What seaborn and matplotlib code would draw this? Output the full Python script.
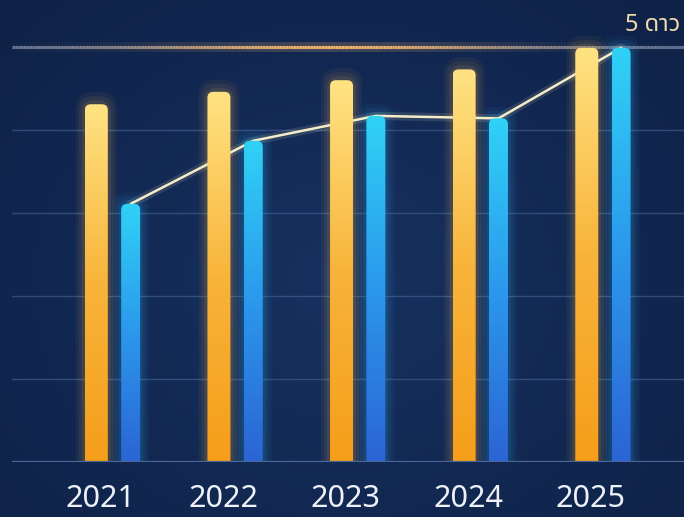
import numpy as np
import pandas as pd
import matplotlib
matplotlib.use("Agg")
import matplotlib.pyplot as plt
import seaborn as sns
from matplotlib.patches import FancyBboxPatch
from matplotlib.colors import LinearSegmentedColormap
from matplotlib.transforms import ScaledTranslation

years = ["2021", "2022", "2023", "2024", "2025"]
gold_values = [4.31, 4.46, 4.60, 4.73, 4.99]
blue_values = [3.11, 3.87, 4.17, 4.14, 4.99]
series = ["gold", "blue"]
top_label = "5 ดาว"

df = pd.DataFrame({
    "year": years * 2,
    "value": gold_values + blue_values,
    "series": [series[0]] * len(years) + [series[1]] * len(years),
})

BG = "#13284f"
sns.set_theme(style="dark")
plt.rcParams["font.family"] = ["Noto Sans", "Noto Sans Thai", "DejaVu Sans"]

fig = plt.figure(figsize=(6.84, 5.17), dpi=100, facecolor=BG)
# background vignette
bgax = fig.add_axes([0, 0, 1, 1])
yy, xx = np.mgrid[0:1:200j, 0:1:200j]
r = np.sqrt(((xx - 0.5) / 0.8) ** 2 + ((yy - 0.55) / 0.9) ** 2)
bgcm = LinearSegmentedColormap.from_list("bg", ["#173160", "#0e2146"])
bgax.imshow(r, cmap=bgcm, extent=[0, 1, 0, 1], aspect="auto", vmin=0, vmax=0.9)
bgax.axis("off")

ax = fig.add_axes([0.0175, 0.1064, 0.9825, 0.8936])
ax.patch.set_alpha(0)

sns.barplot(data=df, x="year", y="value", hue="series", hue_order=series,
            palette={"gold": "#f7b23a", "blue": "#2fa6ee"}, width=0.56, gap=0.3,
            legend=False, ax=ax, saturation=1, zorder=3)

XMIN, XMAX = -0.828, 4.653
YMAX = 5.566
ax.set_xlim(XMIN, XMAX)
ax.set_ylim(0, YMAX)

# grid lines
for v in [1, 2, 3, 4]:
    ax.axhline(v, color="#3a5685", lw=1.0, alpha=0.8, zorder=1)
ax.axhline(0, color="#4c6796", lw=1.6, zorder=6)

# glowing top line at 5
xs = np.linspace(XMIN, XMAX, 240)
edge = np.array(matplotlib.colors.to_rgb("#5a6f96"))
hot = np.array(matplotlib.colors.to_rgb("#f2b46a"))
for i in range(len(xs) - 1):
    t = (xs[i] - XMIN) / (XMAX - XMIN)
    intensity = np.exp(-((t - 0.47) / 0.30) ** 2)
    col = edge * (1 - intensity) + hot * intensity
    ax.plot(xs[i:i + 2], [5, 5], color=hot, lw=7, alpha=0.22 * intensity, zorder=2,
            solid_capstyle="butt")
    ax.plot(xs[i:i + 2], [5, 5], color=col, lw=2.2, zorder=2, solid_capstyle="butt")

gold_cm = LinearSegmentedColormap.from_list("g", ["#f59e1a", "#f8b43a", "#ffe383"])
blue_cm = LinearSegmentedColormap.from_list("b", ["#2c64d4", "#2b98ec", "#30d2f6"])
px_per_x = 672 / (XMAX - XMIN)
px_per_y = 462 / YMAX
widths = {"gold": 23 / px_per_x, "blue": 19 / px_per_x}
aspect = px_per_x / px_per_y

bars = list(ax.patches)
blue_tops = []
for idx, p in enumerate(bars):
    name = series[idx // len(years)]
    cx = p.get_x() + p.get_width() / 2
    h = p.get_height()
    w = widths[name]
    p.set_visible(False)
    glowc = "#ffb84a" if name == "gold" else "#2fb8ff"
    for k, a in [(3.0, 0.05), (2.0, 0.07), (1.0, 0.10)]:
        gw = w + k * 6 / px_per_x
        g = FancyBboxPatch((cx - gw / 2, -0.3), gw, h + 0.3 + k * 4 / px_per_y,
                           boxstyle="round,pad=0,rounding_size=%f" % (gw / 2.5),
                           mutation_aspect=aspect, fc=glowc, ec="none", alpha=a, zorder=3)
        ax.add_patch(g)
    rp = FancyBboxPatch((cx - w / 2, -0.3), w, h + 0.3,
                        boxstyle="round,pad=0,rounding_size=%f" % (6 / px_per_x),
                        mutation_aspect=aspect, fc="none", ec="none", zorder=4)
    ax.add_patch(rp)
    cm = gold_cm if name == "gold" else blue_cm
    grad = np.linspace(1, 0, 256).reshape(-1, 1)
    im = ax.imshow(grad, cmap=cm, extent=[cx - w / 2, cx + w / 2, 0, h], aspect="auto",
                   vmin=0, vmax=1, zorder=4, interpolation="bilinear")
    im.set_clip_path(rp)
    if name == "blue":
        blue_tops.append((cx, h))

lx = [c for c, _ in blue_tops]
ly = [h for _, h in blue_tops]
ax.plot(lx, ly, color="#fff3c8", lw=6, alpha=0.12, zorder=3.5)
ax.plot(lx, ly, color="#f4ecc8", lw=1.8, zorder=3.6)

ax.set_xlim(XMIN, XMAX)
ax.set_ylim(0, YMAX)
ax.set_xlabel("")
ax.set_ylabel("")
ax.set_yticks([])
ax.tick_params(axis="x", length=0, pad=16, labelsize=22, labelcolor="#eef2f8")
shift = ScaledTranslation(-13 / 100, 0, fig.dpi_scale_trans)
for lab in ax.get_xticklabels():
    lab.set_transform(lab.get_transform() + shift)
ax.grid(False)
for s in ax.spines.values():
    s.set_visible(False)

ax.text(XMAX - 0.03, 5.27, top_label, ha="right", va="center", fontsize=17,
        color="#f2dcae", family=["Noto Sans Thai", "Noto Sans", "DejaVu Sans"], zorder=7)

fig.savefig("out.png", dpi=100, facecolor=BG)
